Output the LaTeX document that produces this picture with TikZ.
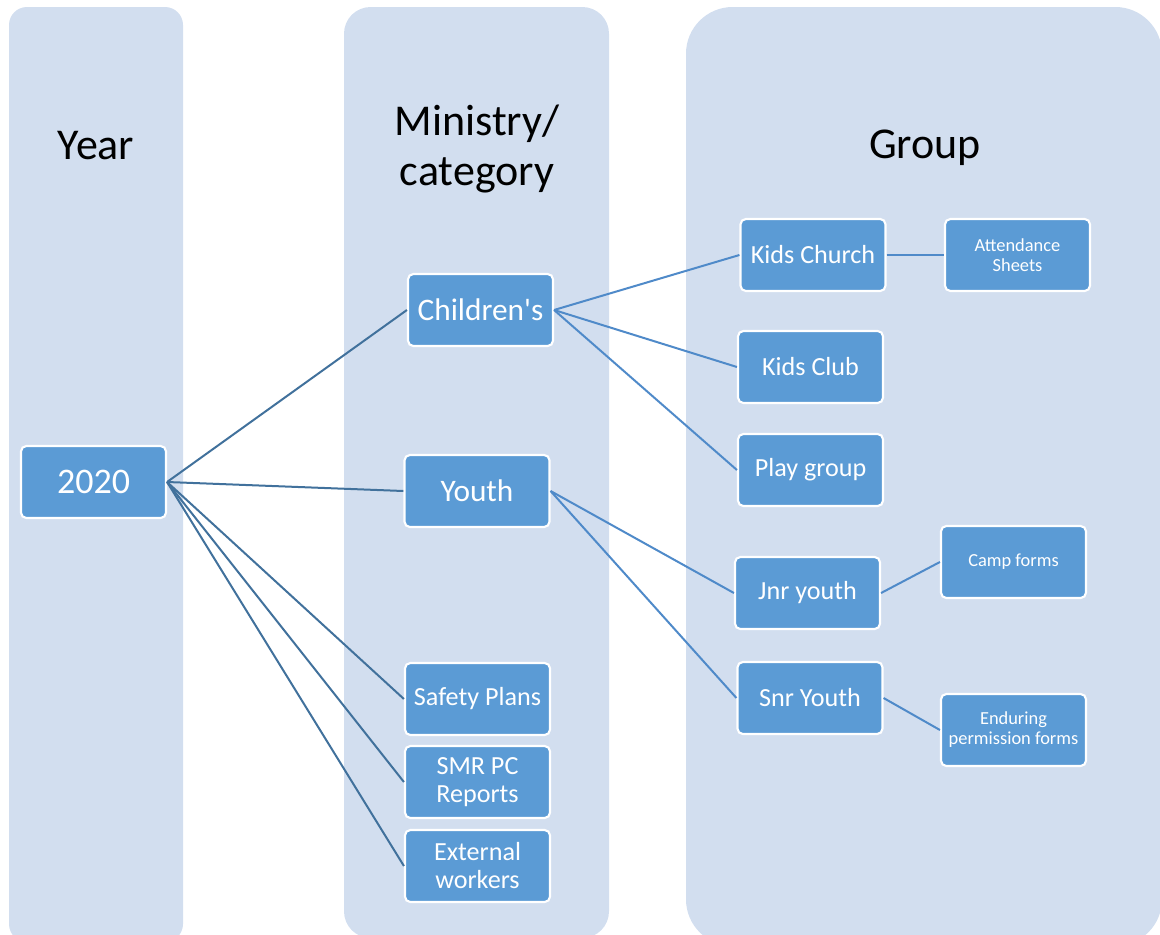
\documentclass[tikz,border=0pt]{standalone}
\usepackage{fontspec}
\setmainfont{Carlito}[Ligatures=TeXOff]
\definecolor{colfill}{HTML}{D2DEEF}
\definecolor{nodefill}{HTML}{5B9BD5}
\definecolor{linkdark}{HTML}{41719C}
\definecolor{linklight}{HTML}{4F8AC9}
\tikzset{
  column/.style={fill=colfill, draw=none},
  coltitle/.style={font=\fontsize{33}{40}\selectfont, text=black, align=center},
  box/.style={draw=white, line width=1.6pt, fill=nodefill, rounded corners=4pt,
    minimum width=108.75pt, minimum height=54pt, text=white, align=center,
    inner sep=0pt, font=\fontsize{19.6}{21}\selectfont},
  midbox/.style={box, font=\fontsize{23.5}{26}\selectfont},
  bigbox/.style={box, font=\fontsize{27}{30}\selectfont},
  smallbox/.style={box, font=\fontsize{13.8}{15}\selectfont},
  linkA/.style={draw=linkdark, line width=1.5pt},
  linkB/.style={draw=linklight, line width=1.5pt},
}
\begin{document}
\begin{tikzpicture}[x=0.75pt,y=-0.75pt]
\useasboundingbox (0,0) rectangle (1160,935);
\begin{scope}
\clip (0,0) rectangle (1160,935);
\fill[column, rounded corners=13.5pt] (9,7) rectangle (183,942);
\fill[column, rounded corners=20pt] (344,7) rectangle (609,938);
\fill[column, rounded corners=35pt] (686,7) rectangle (1162,946);
\end{scope}
\node[coltitle] (tyear) at (96,146) {Year};
\node[coltitle] (tmin) at (477,149) {Ministry/\\[-2pt]category};
\node[coltitle] (tgrp) at (925,148) {Group};

\node[bigbox] (y2020) at (93.5,482) {2020};
\node[midbox] (child) at (480.5,310) {Children's};
\node[midbox] (youth) at (477,491) {Youth};
\node[box] (safety) at (477.5,699) {Safety Plans};
\node[box] (smr) at (477.5,782) {SMR PC\\Reports};
\node[box] (ext) at (477.5,866) {External\\workers};

\node[box] (kchurch) at (813,255) {Kids Church};
\node[smallbox] (attend) at (1017.5,255) {Attendance\\Sheets};
\node[box] (kclub) at (810.5,367) {Kids Club};
\node[box] (play) at (810.5,470) {Play group};
\node[box] (jnr) at (807.5,593) {Jnr youth};
\node[smallbox] (camp) at (1013.5,562) {Camp forms};
\node[box] (snr) at (810,698) {Snr Youth};
\node[smallbox] (endur) at (1013.5,730) {Enduring\\permission forms};

\foreach \t in {child,youth,safety,smr,ext}
  \draw[linkA] (y2020.east) -- (\t.west);
\foreach \t in {kchurch,kclub,play}
  \draw[linkB] (child.east) -- (\t.west);
\foreach \t in {jnr,snr}
  \draw[linkB] (youth.east) -- (\t.west);
\draw[linkB] (kchurch.east) -- (attend.west);
\draw[linkB] (jnr.east) -- (camp.west);
\draw[linkB] (snr.east) -- (endur.west);
\end{tikzpicture}
\end{document}
